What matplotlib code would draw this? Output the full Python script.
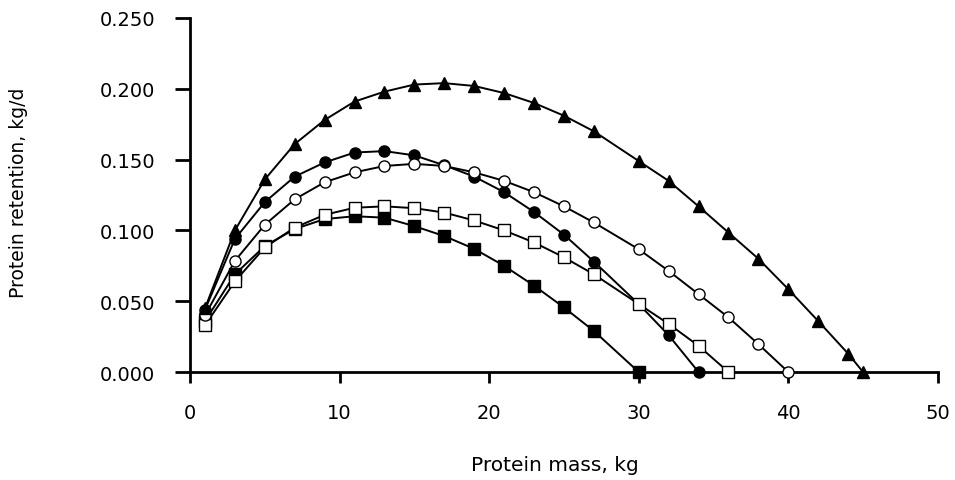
'''
Protein retention vs protein mass, five curves
'''
import matplotlib
matplotlib.use('Agg')
from matplotlib import pyplot as plt

# protein mass values (kg) shared by every curve; each curve stops at its own end
mass = [1, 3, 5, 7, 9, 11, 13, 15, 17, 19, 21, 23, 25, 27, 30, 32, 34, 36, 38, 40, 42, 44, 45]

ret_triangle = [0.045, 0.100, 0.136, 0.161, 0.178, 0.191, 0.198, 0.203, 0.204, 0.202,
                0.197, 0.190, 0.181, 0.170, 0.149, 0.135, 0.117, 0.0985, 0.080, 0.0585,
                0.036, 0.013, 0.0]
ret_filled_circle = [0.044, 0.094, 0.120, 0.138, 0.148, 0.155, 0.156, 0.153, 0.146, 0.138,
                     0.127, 0.113, 0.097, 0.078, 0.048, 0.026, 0.0]
ret_open_circle = [0.040, 0.0785, 0.104, 0.122, 0.134, 0.141, 0.1455, 0.147, 0.1455, 0.141,
                   0.135, 0.127, 0.117, 0.1056, 0.0867, 0.0714, 0.055, 0.0386, 0.0197, 0.0]
ret_open_square = [0.033, 0.064, 0.088, 0.102, 0.111, 0.116, 0.117, 0.1157, 0.1126, 0.107,
                   0.100, 0.0915, 0.081, 0.069, 0.048, 0.034, 0.0185, 0.0]
ret_filled_square = [0.036, 0.069, 0.089, 0.101, 0.108, 0.110, 0.109, 0.103, 0.096, 0.087,
                     0.075, 0.061, 0.0456, 0.029, 0.0]

x_ticks = [0, 10, 20, 30, 40, 50]
y_ticks = [0.0, 0.05, 0.10, 0.15, 0.20, 0.25]

plt.rcParams['font.family'] = ['DejaVu Sans']

fig = plt.figure(figsize=(9.55, 4.81), dpi=100)
ax = fig.add_axes([0.199, 0.2245, 0.783, 0.736])

series = [
    (ret_filled_square, 's', 'black'),
    (ret_filled_circle, 'o', 'black'),
    (ret_open_square, 's', 'white'),
    (ret_open_circle, 'o', 'white'),
    (ret_triangle, '^', 'black'),
]
for vals, mk, face in series:
    ax.plot(mass[:len(vals)], vals, color='black', lw=1.4, marker=mk,
            markersize=8, markerfacecolor=face, markeredgecolor='black',
            markeredgewidth=1.0, clip_on=False, zorder=3)

ax.set_xlim(0, 50)
ax.set_ylim(0, 0.25)
ax.set_xticks(x_ticks)
ax.set_yticks(y_ticks)
ax.set_yticklabels(['{:.3f}'.format(v) for v in y_ticks])
ax.spines['top'].set_visible(False)
ax.spines['right'].set_visible(False)
for s in ('left', 'bottom'):
    ax.spines[s].set_linewidth(2)
ax.tick_params(direction='out', width=2, labelsize=14, colors='black')
ax.tick_params(axis='x', length=8, pad=14)
ax.tick_params(axis='y', length=11, pad=14)

ax.set_xlabel('Protein mass, kg', fontsize=14.5)
ax.xaxis.set_label_coords(0.488, -0.235)
ax.set_ylabel('Protein retention, kg/d', fontsize=13.5)
ax.yaxis.set_label_coords(-0.217, 0.51)

plt.savefig('out.png', dpi=100)
